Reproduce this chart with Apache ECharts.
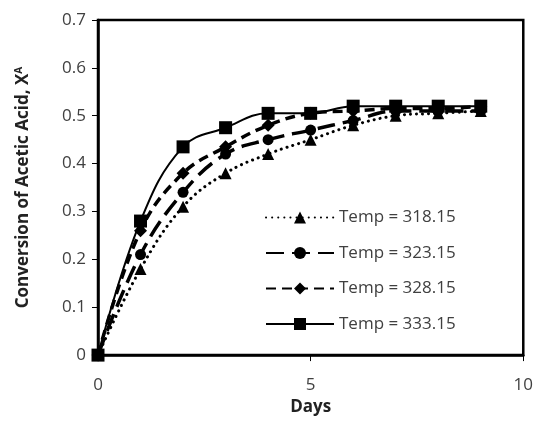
<!DOCTYPE html>
<html>
<head>
<meta charset="utf-8">
<script src="https://cdn.jsdelivr.net/npm/echarts@6/dist/echarts.min.js"></script>
<style>
  html, body { margin: 0; padding: 0; background: #fff; }
  #chart { width: 536px; height: 421px; }
</style>
</head>
<body>
<div id="chart"></div>
<script>
// days on the x axis
var days = [0, 1, 2, 3, 4, 5, 6, 7, 8, 9]
// conversion values per temperature
var temp318 = [0, 0.18, 0.31, 0.38, 0.42, 0.45, 0.48, 0.50, 0.505, 0.51]
var temp323 = [0, 0.21, 0.34, 0.42, 0.45, 0.47, 0.49, 0.51, 0.51, 0.51]
var temp328 = [0, 0.26, 0.38, 0.435, 0.48, 0.505, 0.51, 0.515, 0.515, 0.52]
var temp333 = [0, 0.28, 0.435, 0.475, 0.505, 0.505, 0.52, 0.52, 0.52, 0.52]
var seriesNames = ['Temp = 318.15', 'Temp = 323.15', 'Temp = 328.15', 'Temp = 333.15']

function pairs (vals) {
    return days.map(function (d, i) { return [d, vals[i]] })
}

var font = 'Open Sans'
var myChart = echarts.init(document.getElementById('chart'))

myChart.setOption({
    animation: false,
    grid: {
        left: 98,
        right: 11,
        top: 20,
        bottom: 59,
        show: true,
        borderColor: '#000',
        borderWidth: 2.5
    },
    legend: {
        orient: 'vertical',
        left: 260,
        top: 204,
        itemWidth: 68,
        itemHeight: 15,
        itemGap: 18.5,
        textStyle: { fontFamily: font, fontSize: 17, color: '#404040' },
        data: seriesNames
    },
    xAxis: {
        type: 'value',
        min: 0,
        max: 10,
        interval: 5,
        name: 'Days',
        nameLocation: 'middle',
        nameGap: 40,
        nameTextStyle: { fontFamily: font, fontSize: 17, fontWeight: 'bold', color: '#222' },
        axisLine: { lineStyle: { color: '#000', width: 2.5 } },
        axisTick: { show: true, length: 6, lineStyle: { color: '#000' } },
        axisLabel: { fontFamily: font, fontSize: 17, color: '#404040', margin: 22 },
        splitLine: { show: false }
    },
    yAxis: {
        type: 'value',
        min: 0,
        max: 0.7,
        interval: 0.1,
        name: 'Conversion of Acetic Acid, X{sup|A}',
        nameLocation: 'middle',
        nameGap: 66,
        nameTextStyle: {
            fontFamily: font,
            fontSize: 17,
            fontWeight: 'bold',
            color: '#222',
            rich: {
                sup: { fontFamily: font, fontSize: 10, fontWeight: 'bold', color: '#222', verticalAlign: 'top', padding: [0, 0, 8, 0] }
            }
        },
        axisLine: { show: true, lineStyle: { color: '#000', width: 2.5 } },
        axisTick: { show: true, length: 6, lineStyle: { color: '#000' } },
        axisLabel: { fontFamily: font, fontSize: 17, color: '#404040', margin: 12 },
        splitLine: { show: false }
    },
    series: [
        {
            name: seriesNames[0],
            type: 'line',
            smooth: 0.4,
            symbol: 'triangle',
            symbolSize: 12,
            itemStyle: { color: '#000' },
            lineStyle: { color: '#000', width: 3, type: [0.1, 6], cap: 'round' },
            data: pairs(temp318)
        },
        {
            name: seriesNames[1],
            type: 'line',
            smooth: 0.4,
            symbol: 'circle',
            symbolSize: 11,
            itemStyle: { color: '#000' },
            lineStyle: { color: '#000', width: 3.5, type: [18, 8] },
            data: pairs(temp323)
        },
        {
            name: seriesNames[2],
            type: 'line',
            smooth: 0.4,
            symbol: 'diamond',
            symbolSize: 13,
            itemStyle: { color: '#000' },
            lineStyle: { color: '#000', width: 3.5, type: [10, 6] },
            data: pairs(temp328)
        },
        {
            name: seriesNames[3],
            type: 'line',
            smooth: 0.4,
            symbol: 'rect',
            symbolSize: 13,
            itemStyle: { color: '#000' },
            lineStyle: { color: '#000', width: 2 },
            data: pairs(temp333)
        }
    ]
})
</script>
</body>
</html>
